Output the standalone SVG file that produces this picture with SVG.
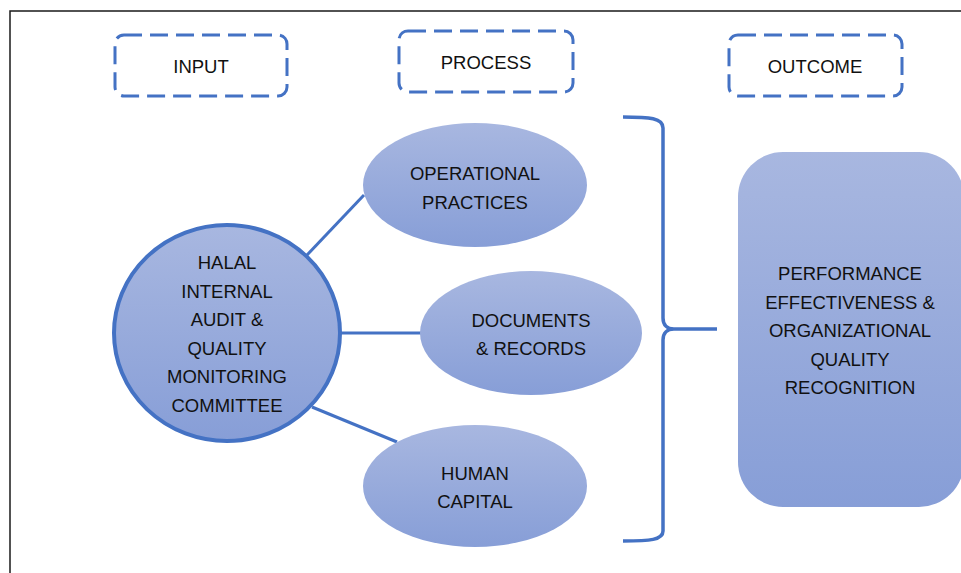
<svg xmlns="http://www.w3.org/2000/svg" width="961" height="573" viewBox="0 0 961 573">
  <defs>
    <linearGradient id="fillBlue" x1="0" y1="0" x2="0" y2="1">
      <stop offset="0" stop-color="#A8B7E0"/>
      <stop offset="1" stop-color="#879ED7"/>
    </linearGradient>
    <style>
      text { font-family: "Liberation Sans", Arial, sans-serif; font-size: 18.5px; fill: #111; text-anchor: middle; }
      .tag { fill: none; stroke: #4472C4; stroke-width: 3; stroke-dasharray: 18 8; }
      .node { fill: url(#fillBlue); }
      .link { fill: none; stroke: #4472C4; stroke-width: 3; }
      .brace { fill: none; stroke: #4472C4; stroke-width: 3.5; stroke-linejoin: round; }
    </style>
  </defs>

  <rect width="961" height="573" fill="#ffffff"/>
  <!-- frame -->
  <path d="M10,573 V11 H961" fill="none" stroke="#1a1a1a" stroke-width="1.5"/>

  <!-- column headers -->
  <g id="input">
    <rect class="tag" x="115" y="35" width="172" height="61" rx="9"/>
    <text x="201" y="73">INPUT</text>
  </g>
  <g id="process">
    <rect class="tag" x="399" y="31" width="174" height="61" rx="9"/>
    <text x="486" y="68.5">PROCESS</text>
  </g>
  <g id="outcome-header">
    <rect class="tag" x="729" y="35" width="173" height="61" rx="9"/>
    <text x="815" y="73">OUTCOME</text>
  </g>

  <!-- connectors -->
  <g id="connectors">
    <line class="link" x1="307" y1="255" x2="364" y2="195"/>
    <line class="link" x1="340" y1="333" x2="421" y2="333"/>
    <line class="link" x1="312" y1="407" x2="397" y2="442"/>
    <path class="brace" d="M623,117 C650,117 663,118 663,128 L663,318 C663,325 667,329 674,329 L717,329 M674,329 C667,329 663,333 663,340 L663,531 C663,540 650,541 623,541"/>
  </g>

  <!-- central committee -->
  <g id="committee">
    <ellipse class="node" cx="227" cy="333" rx="113" ry="108" stroke="#4472C4" stroke-width="4"/>
    <text x="227" y="269">HALAL</text>
    <text x="227" y="297.5">INTERNAL</text>
    <text x="227" y="326">AUDIT &amp;</text>
    <text x="227" y="354.5">QUALITY</text>
    <text x="227" y="383">MONITORING</text>
    <text x="227" y="411.5">COMMITTEE</text>
  </g>

  <!-- process items -->
  <g id="operational">
    <ellipse class="node" cx="475" cy="185" rx="112" ry="62"/>
    <text x="475" y="180">OPERATIONAL</text>
    <text x="475" y="208.5">PRACTICES</text>
  </g>
  <g id="documents">
    <ellipse class="node" cx="531" cy="333" rx="111" ry="62"/>
    <text x="531" y="327">DOCUMENTS</text>
    <text x="531" y="355">&amp; RECORDS</text>
  </g>
  <g id="human">
    <ellipse class="node" cx="475" cy="486" rx="112" ry="61"/>
    <text x="475" y="480">HUMAN</text>
    <text x="475" y="508">CAPITAL</text>
  </g>

  <!-- outcome -->
  <g id="outcome">
    <rect class="node" x="738" y="152" width="226" height="355" rx="45"/>
    <text x="850" y="280">PERFORMANCE</text>
    <text x="850" y="308.5">EFFECTIVENESS &amp;</text>
    <text x="850" y="337">ORGANIZATIONAL</text>
    <text x="850" y="365.5">QUALITY</text>
    <text x="850" y="394">RECOGNITION</text>
  </g>
</svg>
